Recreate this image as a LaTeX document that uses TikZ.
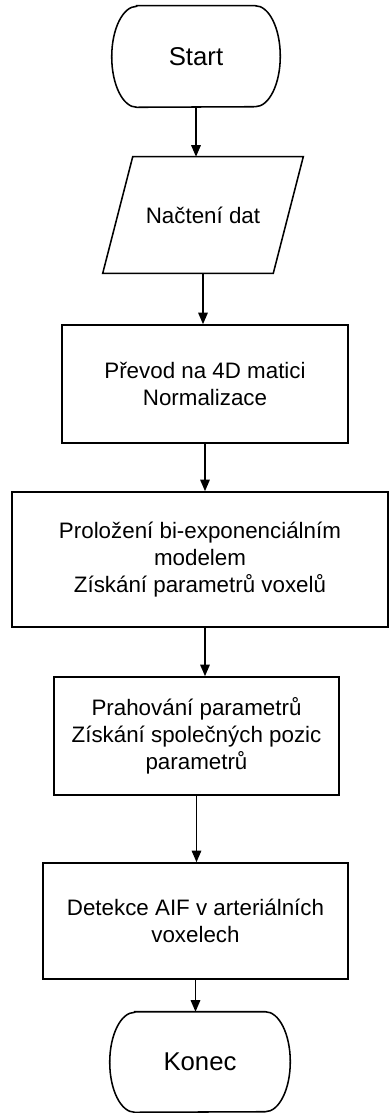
\documentclass[tikz,border=0pt]{standalone}
\usepackage{fontspec}
\setmainfont{Liberation Sans}
\usetikzlibrary{arrows.meta,positioning}

\begin{document}
\begin{tikzpicture}[
  font=\fontsize{15.9}{19.2}\selectfont,
  box/.style={draw, line width=1.2pt, align=center, inner sep=0pt},
  term/.style={align=center, inner sep=0pt, font=\fontsize{18.3}{22}\selectfont},
  io/.style={align=center, inner sep=0pt},
  outline/.style={line width=1.1pt},
  ar/.style={-{Triangle[length=2.9mm, width=2.4mm]}, line width=1pt}
]
  \useasboundingbox (0,0) rectangle (9.75,-27.825);

  \node[term, minimum width=4.2cm, minimum height=2.525cm] (start) at (4.9,-1.4125) {Start};
  \node[io, minimum width=5cm, minimum height=2.9cm] (data) at (5.075,-5.375) {Načtení dat};
  \node[box, minimum width=7.15cm, minimum height=2.95cm] (prevod) at (5.125,-9.6) {Převod na 4D matici\\ Normalizace};
  \node[box, minimum width=9.4cm, minimum height=3.375cm] (fit) at (5.0,-13.9875) {Proložení bi-exponenciálním\\ modelem\\ Získání parametrů voxelů};
  \node[box, minimum width=7.125cm, minimum height=2.95cm] (prah) at (4.9125,-18.4) {Prahování parametrů\\ Získání společných pozic\\ parametrů};
  \node[box, minimum width=7.625cm, minimum height=2.9cm] (detekce) at (4.8875,-23.025) {Detekce AIF v arteriálních\\ voxelech};
  \node[term, minimum width=4.5cm, minimum height=2.5cm] (konec) at (5.0,-26.55) {Konec};

  % terminal outlines
  \draw[outline] ([xshift=0.625cm]start.north west) -- ([xshift=-0.625cm]start.north east)
    arc[start angle=90, end angle=-90, x radius=0.625cm, y radius=1.2625cm]
    -- ([xshift=0.625cm]start.south west)
    arc[start angle=270, end angle=90, x radius=0.625cm, y radius=1.2625cm] -- cycle;
  \draw[outline] ([xshift=0.625cm]konec.north west) -- ([xshift=-0.625cm]konec.north east)
    arc[start angle=90, end angle=-90, x radius=0.625cm, y radius=1.25cm]
    -- ([xshift=0.625cm]konec.south west)
    arc[start angle=270, end angle=90, x radius=0.625cm, y radius=1.25cm] -- cycle;
  % data input
  \draw[outline] ([xshift=0.75cm]data.north west) -- (data.north east)
    -- ([xshift=-0.75cm]data.south east) -- (data.south west) -- cycle;

  \draw[ar] (start.south) -- (start.south |- data.north);
  \draw[ar] (data.south) -- (data.south |- prevod.north);
  \draw[ar] (prevod.south) -- (prevod.south |- fit.north);
  \draw[ar] (fit.south -| prevod.south) -- (prevod.south |- prah.north);
  \draw[ar] (prah.south) -- (prah.south |- detekce.north);
  \draw[ar] (detekce.south) -- (detekce.south |- konec.north);
\end{tikzpicture}
\end{document}
